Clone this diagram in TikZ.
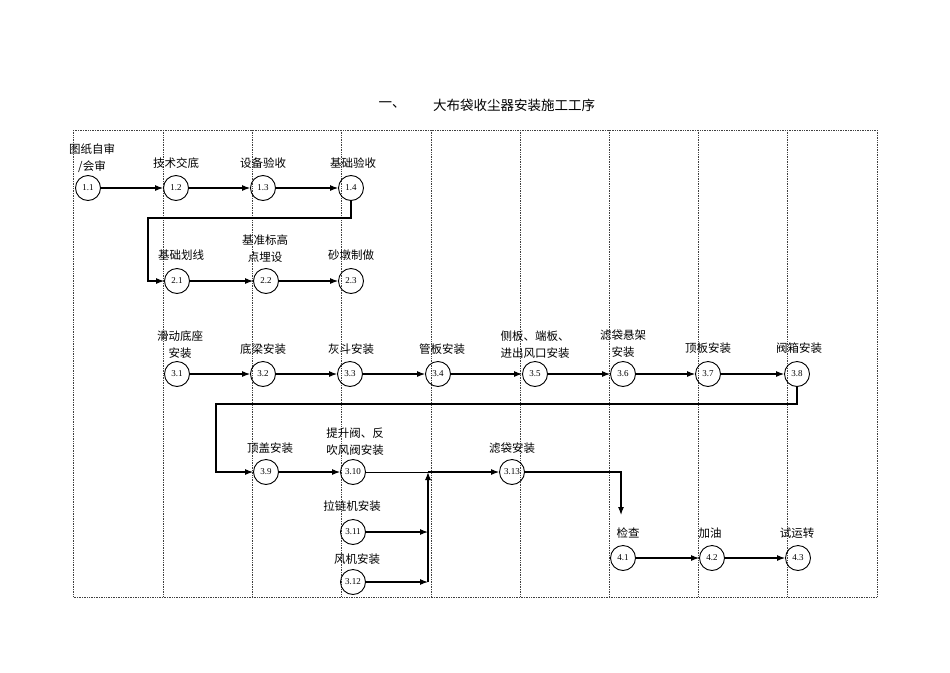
\documentclass[tikz,border=0pt]{standalone}
\usepackage{fontspec}
\setmainfont{Liberation Serif}
\newfontfamily\cjk{Noto Sans CJK SC}
\usetikzlibrary{arrows.meta, positioning}
\tikzstyle{proc} = [circle, draw=black, line width=0.9pt, minimum size=25pt, inner sep=0pt, font=\fontsize{9}{9}\selectfont]
\tikzstyle{lbl} = [align=center, inner sep=0pt, font=\cjk\fontsize{11.5}{17}\selectfont]
\tikzstyle{flow} = [-{Latex[length=8pt,width=6pt]}, line width=1.1pt]
\tikzstyle{grid} = [densely dotted, line width=0.7pt, black!75]

\begin{document}
\begin{tikzpicture}[x=1pt, y=-1pt]
\useasboundingbox (0,0) rectangle (950,672);

% Title
\node[lbl, font=\cjk\fontsize{13.5}{13.5}\selectfont] (num) at (392,105) {一、};
\node[lbl, font=\cjk\fontsize{13.5}{13.5}\selectfont] (title) at (514,105) {大布袋收尘器安装施工工序};

% Frame and columns
\draw[grid] (73,130) rectangle (877,597);
\foreach \x in {163,252,341,431,520,609,698,787}
  \draw[grid] (\x,130) -- (\x,597);

% Row 1
\node[proc] (n11) at (88,188) {1.1};
\node[proc] (n12) at (176,188) {1.2};
\node[proc] (n13) at (263,188) {1.3};
\node[proc] (n14) at (351,188) {1.4};
\node[lbl] (t11) at (92,158) {图纸自审\\/会审};
\node[lbl] (t12) at (176,163) {技术交底};
\node[lbl] (t13) at (263,163) {设备验收};
\node[lbl] (t14) at (353,163) {基础验收};

% Row 2
\node[proc] (n21) at (177,281) {2.1};
\node[proc] (n22) at (266,281) {2.2};
\node[proc] (n23) at (351,281) {2.3};
\node[lbl] (t21) at (181,255) {基础划线};
\node[lbl] (t22) at (265,249) {基准标高\\点埋设};
\node[lbl] (t23) at (351,255) {砂墩制做};

% Row 3
\node[proc] (n31) at (177,374) {3.1};
\node[proc] (n32) at (263,374) {3.2};
\node[proc] (n33) at (350,374) {3.3};
\node[proc] (n34) at (438,374) {3.4};
\node[proc] (n35) at (535,374) {3.5};
\node[proc] (n36) at (623,374) {3.6};
\node[proc] (n37) at (708,374) {3.7};
\node[proc] (n38) at (797,374) {3.8};
\node[lbl] (t31) at (180,345) {滑动底座\\安装};
\node[lbl] (t32) at (263,349) {底梁安装};
\node[lbl] (t33) at (351,349) {灰斗安装};
\node[lbl] (t34) at (442,349) {管板安装};
\node[lbl] (t35) at (535,345) {侧板、端板、\\进出风口安装};
\node[lbl] (t36) at (623,344) {滤袋悬架\\安装};
\node[lbl] (t37) at (708,348) {顶板安装};
\node[lbl] (t38) at (799,348) {阀箱安装};

% Row 4
\node[proc] (n39) at (266,472) {3.9};
\node[proc] (n310) at (353,472) {3.10};
\node[proc] (n311) at (353,532) {3.11};
\node[proc] (n312) at (353,582) {3.12};
\node[proc] (n313) at (512,472) {3.13};
\node[lbl] (t39) at (270,448) {顶盖安装};
\node[lbl] (t310) at (355,442) {提升阀、反\\吹风阀安装};
\node[lbl] (t311) at (352,506) {拉链机安装};
\node[lbl] (t312) at (357,559) {风机安装};
\node[lbl] (t313) at (512,448) {滤袋安装};

% Row 5
\node[proc] (n41) at (623,558) {4.1};
\node[proc] (n42) at (712,558) {4.2};
\node[proc] (n43) at (798,558) {4.3};
\node[lbl] (t41) at (628,533) {检查};
\node[lbl] (t42) at (710,533) {加油};
\node[lbl] (t43) at (797,533) {试运转};

% Turning points
\coordinate (c1) at (148,218);
\coordinate (c2) at (216,404);
\coordinate (c3) at (621,472);
\coordinate (c4) at (621,515);
\coordinate (j1) at (428,472);
\coordinate (j2) at (428,532);
\coordinate (j3) at (428,582);

% Connectors
\draw[flow] (n11) -- (n12);
\draw[flow] (n12) -- (n13);
\draw[flow] (n13) -- (n14);
\draw[flow] (n14.south) -- (n14.south |- c1) -- (c1) |- (n21);
\draw[flow] (n21) -- (n22);
\draw[flow] (n22) -- (n23);
\draw[flow] (n31) -- (n32);
\draw[flow] (n32) -- (n33);
\draw[flow] (n33) -- (n34);
\draw[flow] (n34) -- (n35);
\draw[flow] (n35) -- (n36);
\draw[flow] (n36) -- (n37);
\draw[flow] (n37) -- (n38);
\draw[flow] (n38.south) -- (n38.south |- c2) -- (c2) |- (n39);
\draw[flow] (n39) -- (n310);
\draw[line width=0.6pt] (n310) -- (j1);
\draw[flow] (j1) -- (n313);
\draw[flow] (n311) -- (j2);
\draw[flow] (n312) -- (j3);
\draw[flow] (j3) -- (j1);
\draw[flow] (n313) -- (c3) -- (c4);
\draw[flow] (n41) -- (n42);
\draw[flow] (n42) -- (n43);

\end{tikzpicture}
\end{document}
